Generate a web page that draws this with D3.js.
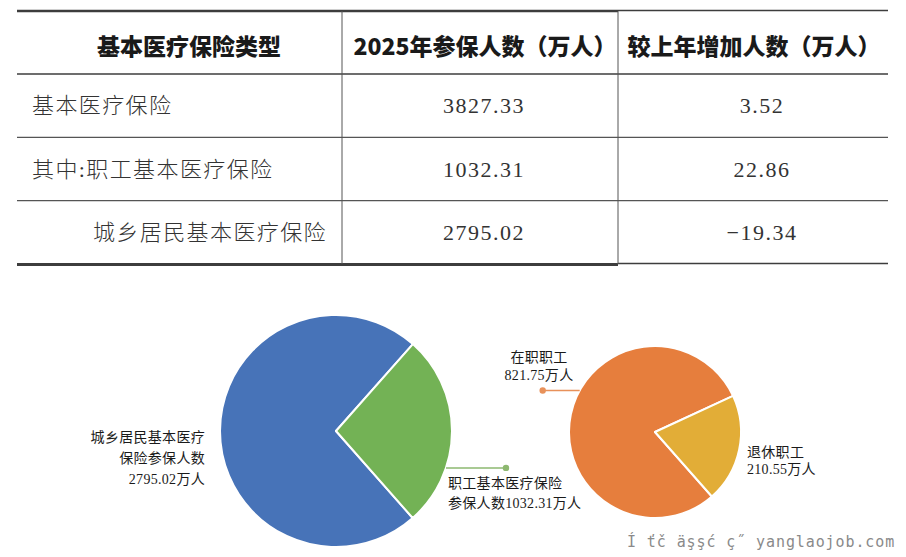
<!DOCTYPE html>
<html>
<head>
<meta charset="utf-8">
<script src="https://cdn.jsdelivr.net/npm/d3@7"></script>
<style>
  body { margin: 0; background: #fff; }
  svg { display: block; }
</style>
</head>
<body>
<script>
// table data
var headers = ["基本医疗保险类型", "2025年参保人数（万人）", "较上年增加人数（万人）"];
var rowNames = ["基本医疗保险", "其中:职工基本医疗保险", "城乡居民基本医疗保险"];
var enrolled = [3827.33, 1032.31, 2795.02];
var change = [3.52, 22.86, -19.34];

// pie data
var basicNames = ["城乡居民基本医疗保险参保人数", "职工基本医疗保险参保人数"];
var basicValues = [2795.02, 1032.31];
var basicLabels = [["城乡居民基本医疗", "保险参保人数", "2795.02万人"], ["职工基本医疗保险", "参保人数1032.31万人"]];
var workerNames = ["在职职工", "退休职工"];
var workerValues = [821.75, 210.55];
var workerLabels = [["在职职工", "821.75万人"], ["退休职工", "210.55万人"]];

var watermark = "Í ťč äşşć ç˝ yanglaojob.com";

var width = 906, height = 557;
var bodyFont = "'Liberation Serif', 'Noto Sans CJK SC', serif";
var lineColor = "#3d3d3d";

var svg = d3.select("body").append("svg")
  .attr("width", width)
  .attr("height", height);

svg.append("rect").attr("width", width).attr("height", height).attr("fill", "#fff");

// ---- table ----
var tableLeft = 17, tableRight = 888, tableTop = 11, headBottom = 74, tableBottom = 264;
var colEdges = [tableLeft, 342, 618, tableRight];

var y = d3.scaleBand()
  .domain(rowNames)
  .range([headBottom, tableBottom]);

var table = svg.append("g").attr("class", "table");

// horizontal rules
table.append("line").attr("x1", tableLeft).attr("x2", colEdges[2]).attr("y1", tableTop).attr("y2", tableTop)
  .attr("stroke", lineColor).attr("stroke-width", 2.5);
table.append("line").attr("x1", colEdges[2]).attr("x2", tableRight).attr("y1", tableTop - 0.5).attr("y2", tableTop - 0.5)
  .attr("stroke", lineColor).attr("stroke-width", 1.5);
table.append("line").attr("x1", tableLeft).attr("x2", tableRight).attr("y1", headBottom).attr("y2", headBottom)
  .attr("stroke", lineColor).attr("stroke-width", 1.5);
table.selectAll("line.row")
  .data(rowNames.slice(1))
  .enter().append("line")
  .attr("class", "row")
  .attr("x1", tableLeft).attr("x2", tableRight)
  .attr("y1", function(d) { return y(d); })
  .attr("y2", function(d) { return y(d); })
  .attr("stroke", "#555").attr("stroke-width", 1.3);
table.append("line").attr("x1", tableLeft).attr("x2", colEdges[2]).attr("y1", tableBottom + 0.5).attr("y2", tableBottom + 0.5)
  .attr("stroke", lineColor).attr("stroke-width", 3);
table.append("line").attr("x1", colEdges[2]).attr("x2", tableRight).attr("y1", tableBottom - 0.5).attr("y2", tableBottom - 0.5)
  .attr("stroke", lineColor).attr("stroke-width", 1.5);

// column dividers
table.selectAll("line.col")
  .data(colEdges.slice(1, 3))
  .enter().append("line")
  .attr("class", "col")
  .attr("x1", function(d) { return d; }).attr("x2", function(d) { return d; })
  .attr("y1", tableTop).attr("y2", tableBottom)
  .attr("stroke", "#555").attr("stroke-width", 1);

// header
var headCenters = [189, 485, 754];
table.selectAll("text.head")
  .data(headers)
  .enter().append("text")
  .attr("class", "head")
  .attr("x", function(d, i) { return headCenters[i]; })
  .attr("y", (tableTop + headBottom) / 2 + 2)
  .attr("text-anchor", "middle")
  .attr("dominant-baseline", "central")
  .style("font-family", "'Noto Sans CJK SC', sans-serif")
  .style("font-weight", 900)
  .style("font-size", "23px")
  .attr("fill", "#1a1a1a")
  .text(function(d) { return d; });

// body rows
var rows = table.selectAll("g.row")
  .data(rowNames)
  .enter().append("g")
  .attr("class", "row")
  .attr("transform", function(d) { return "translate(0," + (y(d) + y.bandwidth() / 2) + ")"; });

rows.append("text")
  .attr("x", function(d, i) { return i === 2 ? 93 : 32; })
  .attr("dominant-baseline", "central")
  .style("font-family", bodyFont)
  .style("font-weight", 300)
  .style("font-size", "22px")
  .style("letter-spacing", "1.4px")
  .attr("fill", "#333")
  .text(function(d) { return d; });

rows.append("text")
  .attr("x", 484)
  .attr("text-anchor", "middle")
  .attr("dominant-baseline", "central")
  .style("font-family", bodyFont)
  .style("font-size", "22px")
  .style("letter-spacing", "1.5px")
  .attr("fill", "#333")
  .text(function(d, i) { return d3.format(".2f")(enrolled[i]); });

rows.append("text")
  .attr("x", 762)
  .attr("text-anchor", "middle")
  .attr("dominant-baseline", "central")
  .style("font-family", bodyFont)
  .style("font-size", "22px")
  .style("letter-spacing", "1.5px")
  .attr("fill", "#333")
  .text(function(d, i) { return d3.format(".2f")(change[i]); });

// ---- pies ----
var pieStart = 138.6 * Math.PI / 180;

function drawPie(cx, cy, r, values, colors) {
  var pie = d3.pie().sort(null).startAngle(pieStart).endAngle(pieStart + 2 * Math.PI);
  var arcs = pie(values);
  var arc = d3.arc().innerRadius(0).outerRadius(r);
  var g = svg.append("g").attr("transform", "translate(" + cx + "," + cy + ")");
  g.selectAll("path")
    .data(arcs)
    .enter().append("path")
    .attr("d", arc)
    .attr("fill", function(d, i) { return colors[i]; })
    .attr("stroke", "#fff")
    .attr("stroke-width", 2)
    .attr("stroke-linejoin", "round");
  return arcs;
}

function edgePoint(cx, cy, r, a) {
  return [cx + r * Math.sin(a), cy - r * Math.cos(a)];
}

function labelLines(x, y0, lines, anchor, lh) {
  svg.append("text")
    .attr("text-anchor", anchor)
    .style("font-family", bodyFont)
    .style("font-size", "14px")
    .style("letter-spacing", "0.3px")
    .attr("fill", "#1a1a1a")
    .selectAll("tspan")
    .data(lines)
    .enter().append("tspan")
    .attr("x", x)
    .attr("y", function(d, i) { return y0 + i * lh; })
    .text(function(d) { return d; });
}

// left pie: basic insurance split
var lcx = 336, lcy = 431, lr = 116;
var basicColors = ["#4773B8", "#73B255"];
var leftArcs = drawPie(lcx, lcy, lr, basicValues, basicColors);

var gMid = (leftArcs[1].startAngle + leftArcs[1].endAngle) / 2 + 18.5 * Math.PI / 180;
var gp = edgePoint(lcx, lcy, lr, gMid);
svg.append("line").attr("x1", gp[0]).attr("y1", gp[1]).attr("x2", gp[0] + 60).attr("y2", gp[1])
  .attr("stroke", "#8DB870").attr("stroke-width", 1.5);
svg.append("circle").attr("cx", gp[0] + 60).attr("cy", gp[1]).attr("r", 3.2).attr("fill", "#8DB870");

labelLines(205, 442, basicLabels[0], "end", 21);
labelLines(448, 488, basicLabels[1], "start", 20);

// right pie: employee insurance split
var rcx = 655, rcy = 432, rr = 86;
var workerColors = ["#E67E3D", "#E2AD37"];
var rightArcs = drawPie(rcx, rcy, rr, workerValues, workerColors);

var oMid = (rightArcs[0].startAngle + rightArcs[0].endAngle) / 2 + 17 * Math.PI / 180;
var op = edgePoint(rcx, rcy, rr, oMid);
svg.append("line").attr("x1", op[0]).attr("y1", op[1]).attr("x2", op[0] - 37).attr("y2", op[1])
  .attr("stroke", "#E8915A").attr("stroke-width", 1.5);
svg.append("circle").attr("cx", op[0] - 37).attr("cy", op[1]).attr("r", 3.2).attr("fill", "#E8915A");

labelLines(539, 362, workerLabels[0], "middle", 18);
labelLines(747, 457, workerLabels[1], "start", 17);

// watermark
svg.append("text")
  .attr("x", 627)
  .attr("y", 547)
  .style("font-family", "'DejaVu Sans Mono', monospace")
  .style("font-size", "15px")
  .style("letter-spacing", "0.9px")
  .attr("fill", "#8a8a8a")
  .text(watermark);
</script>
</body>
</html>
